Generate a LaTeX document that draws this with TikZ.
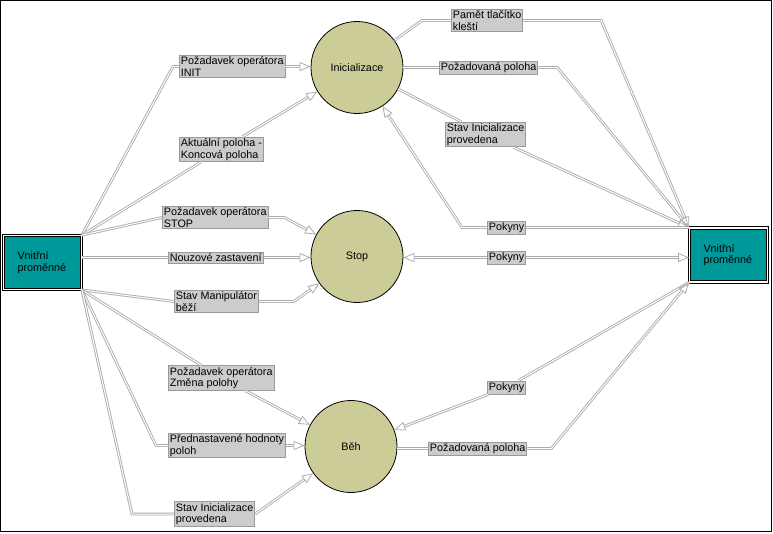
\documentclass[tikz,border=0pt]{standalone}
\usepackage{fontspec}
\setmainfont{Liberation Sans}
\usepackage{tikz}
\usetikzlibrary{arrows.meta}
\definecolor{khaki}{RGB}{204,204,153}
\definecolor{tealbox}{RGB}{0,153,153}
\tikzset{
  % open triangle tips as in the original tool
  >={Triangle[open, length=11pt, width=9pt, line width=0.8pt]},
  txt/.style={font=\fontsize{10.8}{11.5}\selectfont}
}

\begin{document}
\begin{tikzpicture}[x=1pt, y=-1pt]
    % Define styles
    \tikzstyle{state} = [circle, draw, line width=0.8pt, fill=khaki, minimum size=92pt, inner sep=0pt, txt]
    \tikzstyle{store} = [rectangle, draw, line width=0.8pt, double=white, double distance=1.6pt, fill=tealbox, minimum width=78pt, minimum height=54pt, text width=50pt, align=left, txt]
    \tikzstyle{lbl} = [rectangle, draw=gray!80, line width=0.8pt, fill=gray!40, inner sep=1.5pt, align=left, anchor=west, txt]
    \tikzstyle{line} = [draw=gray!65, line width=0.9pt, double=white, double distance=1pt]

    \useasboundingbox (0,0) rectangle (773,533);
    \draw[line width=1pt] (0.5,0.5) rectangle (771.5,531.5);

    % Place nodes
    \node [store] (vl) at (42.5,262.5) {Vnitřní\\proměnné};
    \node [store] (vr) at (728.5,255) {Vnitřní\\proměnné};
    \node [state] (init) at (357,67.5) {Inicializace};
    \node [state] (stop) at (357,256.5) {Stop};
    \node [state] (beh) at (351,446.5) {Běh};

    \node [lbl] (lInit) at (179,66.5) {Požadavek operátora\\INIT};
    \node [lbl] (lAkt) at (179,149.5) {Aktuální poloha -\\Koncová poloha};
    \node [lbl] (lStop) at (162,217.5) {Požadavek operátora\\STOP};
    \node [lbl] (lNouz) at (168,257.5) {Nouzové zastavení};
    \node [lbl] (lMan) at (174,301.5) {Stav Manipulátor\\běží};
    \node [lbl] (lZmena) at (168,378) {Požadavek operátora\\Změna polohy};
    \node [lbl] (lPred) at (168,445.5) {Přednastavené hodnoty\\poloh};
    \node [lbl] (lStavB) at (174,514) {Stav Inicializace\\provedena};
    \node [lbl] (lPamet) at (451,20.5) {Pamět tlačítko\\kleští};
    \node [lbl] (lPozT) at (439,67.5) {Požadovaná poloha};
    \node [lbl] (lStavI) at (445,134.5) {Stav Inicializace\\provedena};
    \node [lbl] (lPok1) at (487,227.5) {Pokyny};
    \node [lbl] (lPok2) at (487,257.5) {Pokyny};
    \node [lbl] (lPok3) at (487,387.5) {Pokyny};
    \node [lbl] (lPozB) at (428,448.5) {Požadovaná poloha};

    % Draw edges, left side
    \path [line] (vl.north east) -- ([xshift=-6pt]lInit.west) -- (lInit.west);
    \path [line, ->] (lInit.east) -- ++(12,0) -- (init);
    \path [line] (vl.north east) -- (lAkt);
    \path [line, ->] (lAkt) -- (init);
    \path [line] (vl.north east) -- (lStop.west);
    \path [line, ->] (lStop.east) -- ++(16,0) -- (stop);
    \path [line] (lNouz.west -| vl.east) -- (lNouz.west);
    \path [line, ->] (lNouz.east) -- (lNouz.east -| stop.west);
    \path [line] (vl.south east) -- (lMan.west);
    \path [line, ->] (lMan.east) -- ++(35,0) -- (stop);
    \path [line] (vl.south east) -- (lZmena);
    \path [line, ->] (lZmena) -- (beh);
    \path [line] (vl.south east) -- ([xshift=-12pt]lPred.west) -- (lPred.west);
    \path [line, ->] (lPred.east) -- (lPred.east -| beh.west);
    \path [line] (vl.south east) -- ([xshift=-42pt]lStavB.west) -- (lStavB.west);
    \path [line, ->] (lStavB.east) -- (beh);

    % Draw edges, right side
    \path [line] (init) -- ([xshift=-29pt]lPamet.west) -- (lPamet.west);
    \path [line, ->] (lPamet.east) -- ++(78,0) -- (vr.north west);
    \path [line] (init) -- (lPozT);
    \path [line, ->] (lPozT.east) -- ++(19,0) -- (vr.north west);
    \path [line] (init) -- (lStavI);
    \path [line, ->] (lStavI) -- (vr.north west);
    \path [line] (vr.west |- lPok1.east) -- (lPok1.east);
    \path [line, ->] (lPok1.west) -- ++(-25,0) -- (init);
    \path [line, ->] (lPok2.west) -- (lPok2.west -| stop.east);
    \path [line, ->] (lPok2.east) -- (lPok2.east -| vr.west);
    \path [line] (vr.south west) -- (lPok3);
    \path [line, ->] (lPok3) -- (beh);
    \path [line] (lPozB.west -| beh.east) -- (lPozB.west);
    \path [line, ->] (lPozB.east) -- ++(24,0) -- (vr.south west);
\end{tikzpicture}
\end{document}
